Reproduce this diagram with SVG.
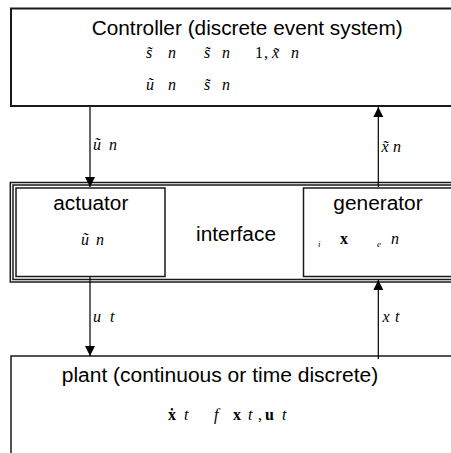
<svg xmlns="http://www.w3.org/2000/svg" width="451" height="453" viewBox="0 0 451 453">
<style>
.box{fill:#fff;stroke:#1a1a1a;stroke-width:1.5}
.thick{stroke-width:2}
.lbl{font-family:"Liberation Sans",Arial,sans-serif;font-size:20px;fill:#000}
.m{font-family:"Liberation Serif","Times New Roman",serif;font-size:16px;font-style:italic;fill:#000}
.b{font-weight:bold;font-style:normal}
.s{font-size:9px}
.conn{stroke:#000;stroke-width:1.2;fill:none}
</style>
<defs>
<marker id="ah" markerWidth="10" markerHeight="12" refX="10" refY="5" orient="auto" markerUnits="userSpaceOnUse" viewBox="0 0 10 10">
<path d="M0,0 L10,5 L0,10 Z" fill="#000"/>
</marker>
</defs>
<rect width="451" height="453" fill="#fff"/>
<g id="controller">
<rect class="box thick" x="11" y="8.5" width="460" height="97.5"/>
<text class="lbl" x="91.7" y="35" textLength="311" lengthAdjust="spacingAndGlyphs">Controller (discrete event system)</text>
<text class="m" y="58"><tspan x="146">s̃</tspan><tspan x="168">n</tspan><tspan x="204">s̃</tspan><tspan x="222">n</tspan><tspan x="255" font-style="normal">1</tspan><tspan x="264" font-style="normal">,</tspan><tspan x="272">x̃</tspan><tspan x="291">n</tspan></text>
<text class="m" y="90"><tspan x="146">ũ</tspan><tspan x="168">n</tspan><tspan x="204">s̃</tspan><tspan x="222">n</tspan></text>
</g>
<g id="interface">
<rect class="box" x="10.3" y="182.5" width="460" height="99.5"/>
<rect class="box" x="13" y="185" width="460" height="94.5"/>
<text class="lbl" x="196" y="240.5" textLength="80" lengthAdjust="spacingAndGlyphs">interface</text>
</g>
<g id="actuator">
<rect class="box" x="16" y="188" width="149" height="88.5"/>
<text class="lbl" x="53.3" y="210" textLength="75" lengthAdjust="spacingAndGlyphs">actuator</text>
<text class="m" y="245"><tspan x="81">ũ</tspan><tspan x="96">n</tspan></text>
</g>
<g id="generator">
<rect class="box" x="303.5" y="188" width="160" height="88.5"/>
<text class="lbl" x="333.3" y="210" textLength="89.4" lengthAdjust="spacingAndGlyphs">generator</text>
<text class="m" y="244"><tspan x="318" y="247" class="s">i</tspan><tspan x="340" y="244" class="b">x</tspan><tspan x="377" y="247" class="s">e</tspan><tspan x="391" y="244">n</tspan></text>
</g>
<g id="plant">
<rect class="box" x="11" y="356" width="460" height="120"/>
<text class="lbl" x="61.7" y="381.5" textLength="316.6" lengthAdjust="spacingAndGlyphs">plant (continuous or time discrete)</text>
<text class="m" y="420"><tspan x="168" class="b">ẋ</tspan><tspan x="184">t</tspan><tspan x="214">f</tspan><tspan x="233" class="b">x</tspan><tspan x="248">t</tspan><tspan x="258" font-style="normal">,</tspan><tspan x="265" class="b">u</tspan><tspan x="282">t</tspan></text>
</g>
<g id="connectors">
<line class="conn" x1="90" y1="107" x2="90" y2="187" marker-end="url(#ah)"/>
<text class="m" y="150"><tspan x="93">ũ</tspan><tspan x="109">n</tspan></text>
<line class="conn" x1="378.3" y1="187" x2="378.3" y2="107" marker-end="url(#ah)"/>
<text class="m" y="151.5"><tspan x="381.5">x̃</tspan><tspan x="393">n</tspan></text>
<line class="conn" x1="90" y1="277" x2="90" y2="356" marker-end="url(#ah)"/>
<text class="m" y="321.5"><tspan x="93">u</tspan><tspan x="110">t</tspan></text>
<line class="conn" x1="378.3" y1="359" x2="378.3" y2="280" marker-end="url(#ah)"/>
<text class="m" y="321.5"><tspan x="382.5">x</tspan><tspan x="395">t</tspan></text>
</g>
</svg>
